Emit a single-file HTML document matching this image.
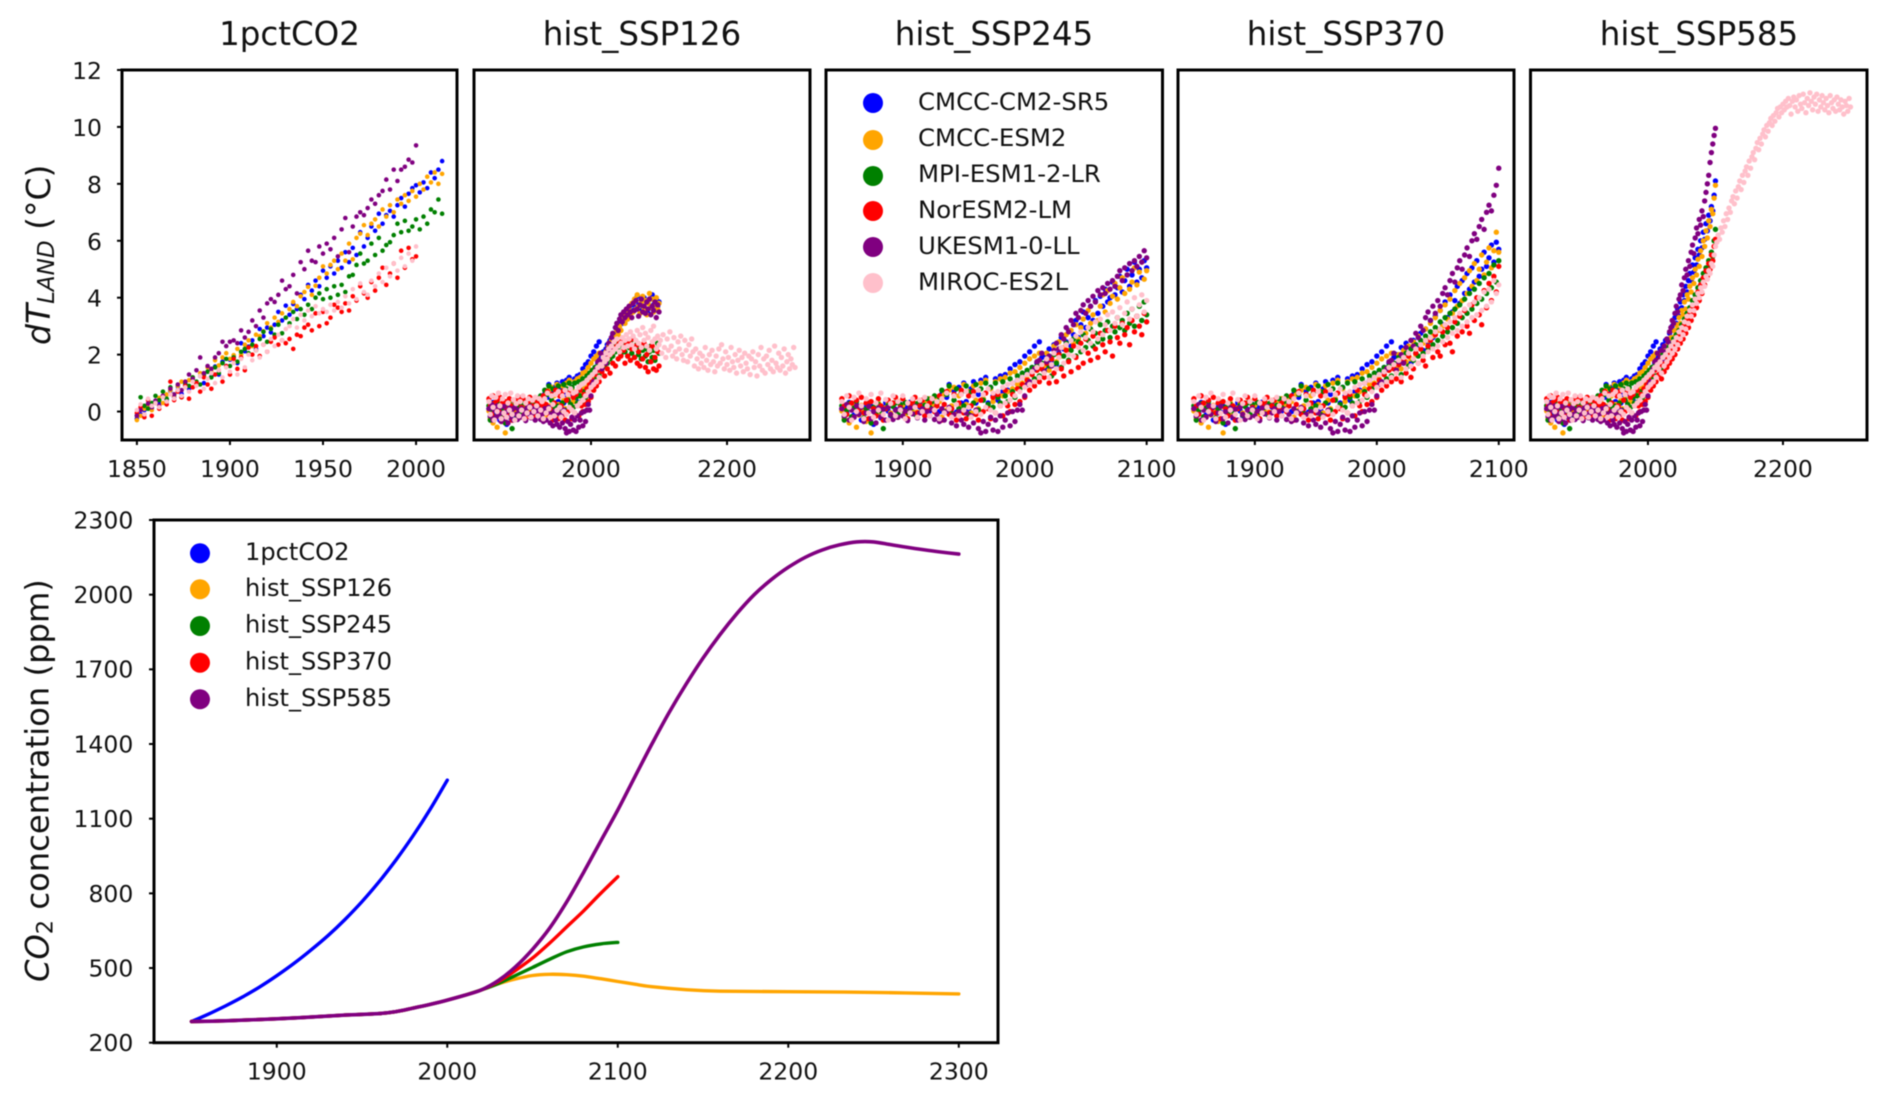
<!DOCTYPE html>
<html lang="en">
<head>
<meta charset="utf-8">
<title>Land temperature change and CO2 concentration</title>
<style>
html,body{margin:0;padding:0;background:#fff;}
#chart{display:block;width:1892px;height:1103px;filter:blur(0.45px);}
text{font-family:"DejaVu Sans","Liberation Sans",sans-serif;fill:#111;}
</style>
</head>
<body>
<svg id="chart" xmlns="http://www.w3.org/2000/svg" width="1892" height="1103" viewBox="0 0 1892 1103">
  <rect x="0" y="0" width="1892" height="1103" fill="#fff"/>
  <g id="marks"></g>
  <text x="289.5" y="45" font-size="32.5" text-anchor="middle">1pctCO2</text>
  <text x="642" y="45" font-size="32.5" text-anchor="middle">hist_SSP126</text>
  <text x="994" y="45" font-size="32.5" text-anchor="middle">hist_SSP245</text>
  <text x="1346" y="45" font-size="32.5" text-anchor="middle">hist_SSP370</text>
  <text x="1699" y="45" font-size="32.5" text-anchor="middle">hist_SSP585</text>
  <text transform="translate(50,345) rotate(-90)" font-size="33"><tspan font-style="italic">dT</tspan><tspan font-style="italic" font-size="23" dy="4">LAND</tspan><tspan dy="-4"> (°C)</tspan></text>
  <text transform="translate(48.5,982) rotate(-90)" font-size="32.2"><tspan font-style="italic">CO</tspan><tspan font-size="22.5" dy="4">2</tspan><tspan dy="-4"> concentration (ppm)</tspan></text>
  <g id="model-legend">
    <circle cx="873" cy="103" r="10" fill="#0000ff"/>
    <text x="918" y="110" font-size="24.4">CMCC-CM2-SR5</text>
    <circle cx="873" cy="140" r="10" fill="#ffa500"/>
    <text x="918" y="146" font-size="24.4">CMCC-ESM2</text>
    <circle cx="873" cy="176" r="10" fill="#008000"/>
    <text x="918" y="182" font-size="24.4">MPI-ESM1-2-LR</text>
    <circle cx="873" cy="211" r="10" fill="#ff0000"/>
    <text x="918" y="218" font-size="24.4">NorESM2-LM</text>
    <circle cx="873" cy="247" r="10" fill="#800080"/>
    <text x="918" y="254" font-size="24.4">UKESM1-0-LL</text>
    <circle cx="873" cy="283" r="10" fill="#ffc0cb"/>
    <text x="918" y="290" font-size="24.4">MIROC-ES2L</text>
  </g>
  <g id="scenario-legend">
    <circle cx="200" cy="553.3" r="10" fill="#0000ff"/>
    <text x="245" y="560" font-size="24.1">1pctCO2</text>
    <circle cx="200" cy="589.3" r="10" fill="#ffa500"/>
    <text x="245" y="596" font-size="24.1">hist_SSP126</text>
    <circle cx="200" cy="626" r="10" fill="#008000"/>
    <text x="245" y="632.7" font-size="24.1">hist_SSP245</text>
    <circle cx="200" cy="662.7" r="10" fill="#ff0000"/>
    <text x="245" y="669.3" font-size="24.1">hist_SSP370</text>
    <circle cx="200" cy="699.3" r="10" fill="#800080"/>
    <text x="245" y="706" font-size="24.1">hist_SSP585</text>
  </g>
</svg>
<script>
// ---------- Scatter values (°C), every second year ----------
const pctBlue=[-0.25,-0.1,0.05,0.2,0.12,0.38,0.3,0.55,0.42,0.72,0.5,0.88,0.62,0.95,0.8,1.18,0.98,1.25,1.0,1.4,1.22,1.58,1.3,1.75,1.6,1.82,1.95,1.7,2.4,2.12,2.28,2.5,2.2,2.9,2.65,2.95,2.78,3.05,3.5,3.2,3.72,3.4,3.78,3.6,4.1,3.95,4.45,4.25,4.6,4.4,4.95,4.7,5.1,4.85,5.3,5.05,5.6,5.25,5.75,5.5,6.3,5.8,6.1,6.5,6.35,6.95,6.6,6.9,7.05,6.85,7.25,7.5,7.2,7.65,7.85,7.95,7.7,8.05,7.85,8.4,8.2,8.5,8.8];
const pctOrange=[-0.3,-0.15,0.1,0.22,0.05,0.35,0.48,0.3,0.6,0.75,0.55,0.9,1.05,0.85,1.1,1.2,0.95,1.35,1.25,1.55,1.4,1.8,1.62,1.9,2.05,1.85,1.98,2.2,2.0,2.35,2.5,2.3,2.7,2.65,2.82,3.1,2.95,3.3,3.15,3.45,3.3,3.6,3.85,3.7,4.05,4.2,4.38,4.1,4.42,4.7,5.1,4.85,5.15,5.3,5.0,5.55,5.3,5.9,5.35,6.1,6.25,6.55,6.2,6.6,6.75,6.5,7.1,6.85,7.25,7.0,7.45,7.3,7.6,7.4,7.75,7.55,8.0,7.8,8.25,8.05,8.4,8.0,8.35];
const pctGreen=[-0.15,0.5,0.2,0.1,0.3,0.55,0.4,0.7,0.45,0.85,0.6,0.75,0.5,1.0,0.9,1.2,1.05,0.95,1.3,1.4,1.2,1.55,1.35,1.7,1.85,1.6,1.9,1.75,2.1,2.2,2.05,2.35,2.15,2.55,2.8,2.45,2.9,2.7,3.05,2.75,3.3,3.1,3.5,3.25,3.6,3.4,3.75,3.6,4.0,4.15,3.95,4.3,4.0,4.4,4.1,4.45,4.2,4.75,4.8,5.15,5.55,5.2,5.3,5.9,5.5,6.1,5.65,5.85,5.95,6.2,6.6,6.3,6.7,6.35,6.5,6.75,6.4,6.85,6.6,7.1,7.0,7.45,6.95];
const pctRed=[-0.05,0.15,-0.2,0.4,-0.15,0.3,0.1,0.55,0.25,1.05,0.4,0.7,0.5,0.9,0.45,0.85,1.0,0.7,1.2,0.95,0.8,1.3,1.45,1.05,1.6,1.3,1.85,1.5,1.9,1.45,2.25,2.0,2.3,1.95,2.35,2.1,2.45,2.6,2.35,2.5,2.4,2.55,2.2,2.7,2.65,2.95,3.05,2.85,3.45,3.0,3.5,3.1,3.3,3.75,3.65,3.5,3.8,3.55,4.05,3.9,4.4,4.15,4.0,4.55,4.25,4.7,5.05,4.45,4.85,5.2,4.7,5.65,5.05,5.75,5.35,5.45];
const pctPurple=[-0.15,0.05,-0.1,0.28,0.15,0.38,0.2,0.55,0.35,0.8,0.6,0.95,0.75,1.05,1.3,1.15,1.45,1.9,1.35,1.6,1.5,1.9,2.05,2.45,2.3,2.45,2.5,2.4,2.85,2.6,2.8,3.2,3.0,3.55,3.3,3.8,3.95,3.85,4.1,4.6,4.3,4.4,4.8,4.15,5.25,5.0,5.65,5.3,5.25,5.8,5.55,5.9,5.7,6.1,5.45,6.4,6.8,5.6,6.5,6.85,7.0,6.9,7.15,7.45,7.3,7.6,7.75,8.15,7.8,8.5,8.1,8.5,8.6,8.85,8.75,9.35];
const pctPink=[0.05,0.25,-0.1,0.45,0.2,0.3,0.15,0.5,0.35,0.6,0.45,0.75,0.55,0.85,0.7,1.05,0.9,1.25,0.8,1.15,1.35,1.0,1.45,1.2,1.55,1.4,1.7,1.3,1.85,1.55,2.0,1.8,2.15,1.9,2.35,2.1,2.55,2.3,2.7,2.5,2.9,3.0,3.25,2.95,3.4,3.2,3.55,3.35,3.7,3.45,3.6,3.5,3.75,3.55,3.85,3.65,4.05,3.8,4.3,3.95,4.5,4.2,4.1,4.6,4.4,4.85,4.55,5.05,4.75,5.2,4.95,5.4,5.1,5.55,5.3,5.8];

const histBlue=[0.1,-0.2,-0.05,0.32,0.18,-0.12,0.24,0.05,-0.3,0.12,0.28,-0.02,0.19,-0.45,-0.1,0.07,-0.22,0.15,0.31,0.02,-0.15,0.2,0.08,-0.18,0.26,0.11,-0.06,0.17,0.33,0.04,0.21,-0.09,0.16,0.3,0.09,0.24,0.02,0.38,0.19,0.27,0,0.62,-0.05,0.5,0.95,0.1,0.72,-0.02,0.85,0.3,1.0,0.35,0.05,0.8,1.05,0.3,0.6,1.1,0.45,1.2,0.3,0.85,0.55,1.15,0.4,1.25,0.7,1.3,0.75,1.5,1.0,1.65,1.1,1.75,1.2,1.95,1.4,2.1,1.55,2.3,1.7,2.45,1.9];
const histOrange=[0.02,-0.25,0.18,-0.4,0.1,0.25,-0.55,-0.12,0.22,0.06,-0.35,0.16,-0.75,-0.2,0.04,0.3,-0.08,-0.3,0.13,0.27,-0.05,0.2,-0.15,0.36,0.09,0.22,-0.12,0.3,0.14,0.05,0.28,-0.02,0.4,0.18,0.32,0.1,0.45,0.25,0.08,0.5,0.35,-0.2,0.6,0.05,0.75,0.2,0.85,-0.1,0.55,0.15,0.95,0.25,0.7,-0.05,0.9,0.4,0.1,1.0,0.45,1.1,0.2,0.8,0.35,1.05,0.5,1.15,0.55,1.2,0.7,1.35,0.8,1.4,0.95,1.55,1.0,1.7,1.15,1.85,1.3,1.95,1.45,2.05,1.7];
const histGreen=[0.2,-0.3,0.05,0.28,-0.18,0.12,0.35,-0.05,0.18,-0.22,0.08,0.3,-0.4,0.15,-0.1,0.25,0.02,-0.6,0.1,0.22,-0.12,0.18,0.3,-0.08,0.24,0.05,0.32,-0.02,0.2,0.14,-0.1,0.28,0.38,0.06,0.22,0.45,0.15,0.35,0.55,0.2,0.5,0.75,0,0.6,0.9,-0.05,0.4,0.8,0.1,0.65,0.2,0.9,-0.1,0.7,0.3,0.95,0.05,0.8,0.4,1.0,0.25,0.85,0.15,1.0,0.5,0.3,1.05,0.55,0.35,1.15,0.7,0.5,1.25,0.8,1.35,0.9,1.45,1.0,1.55,1.15,1.6,1.25,1.7];
const histRed=[0.45,0.2,-0.1,0.55,0.3,-0.2,0.4,0.05,0.5,-0.05,0.3,-0.25,0.35,0.1,-0.15,0.45,0.2,-0.3,0.1,0.4,-0.1,0.3,0.5,-0.2,0.15,0.45,0,-0.25,0.25,0.35,0.5,-0.05,0.2,0.4,-0.15,0.1,0.3,0.45,0,0.2,0.55,-0.3,0.25,0.7,-0.1,0.1,0.6,-0.3,0.3,0.75,-0.05,-0.25,0.55,0.2,0.7,-0.1,-0.3,0.4,0,0.65,0.1,-0.25,0.5,-0.05,0.6,0.2,-0.15,0.75,0.2,0,0.6,0.25,0.8,0.35,0.95,0.5,1.1,0.75,1.3,0.9,1.45,1.05,1.5];
const histPurple=[0.1,-0.15,0.25,-0.3,0.05,-0.2,0.2,-0.1,0.15,-0.35,-0.05,0.18,-0.25,0,-0.4,0.12,-0.18,0.08,-0.3,0.15,-0.1,-0.28,0.05,-0.2,0.1,-0.15,0.02,-0.32,0.12,-0.08,0.18,-0.22,-0.05,0.1,-0.3,0,-0.15,0.08,-0.28,-0.1,-0.35,0.1,-0.3,0,0.15,-0.4,-0.1,-0.5,0,-0.3,-0.45,-0.05,-0.55,-0.15,-0.4,0.05,-0.6,-0.75,-0.35,-0.7,-0.45,-0.2,-0.65,-0.3,-0.7,-0.15,-0.55,-0.3,-0.05,-0.5,0,-0.35,0.05,0.25,0.05,0.55,0.95,1.05,1.4,1.5,1.75,1.8,2.05];
const histPink=[0.35,-0.1,0.55,0.15,-0.3,0.5,0,0.65,0.2,-0.25,0.45,-0.05,0.6,-0.2,0.3,0.05,0.65,-0.1,0.42,-0.3,0.28,0.55,-0.15,0.35,0.05,0.55,-0.25,0.3,-0.05,0.45,0.15,-0.2,0.4,0,0.5,0.2,-0.15,0.45,0.05,0.35,-0.25,0.45,-0.05,0.65,0.1,-0.2,0.55,0.25,-0.15,0.6,0.05,0.7,0.15,-0.2,0.55,0,0.75,-0.1,0.6,0.15,0.8,0.05,0.65,-0.05,0.7,0.2,0.85,0.3,0.95,0.4,1.0,0.55,1.1,0.7,1.2,0.85,1.3,0.95,1.4,1.05,1.55,1.2,1.65];

const s126Blue=[1.9,2.1,1.8,2.2,2.35,2.1,2.5,2.35,2.7,2.55,2.95,2.75,3.1,2.9,3.25,3.1,3.4,3.2,3.5,3.3,3.65,3.45,3.75,3.55,3.9,3.65,4.05,3.75,3.55,3.9,3.7,4.0,3.6,3.85,3.45,3.95,3.65,4.1,3.75,3.55,3.95,3.7,3.85];
const s126Orange=[1.7,1.95,1.65,2.1,1.9,2.3,2.15,2.5,2.3,2.65,2.5,2.85,2.7,3.0,2.85,3.2,3.35,3.1,3.5,3.25,3.65,3.4,3.8,3.5,3.95,3.6,4.1,3.7,3.45,3.85,4.05,3.6,3.9,3.4,3.8,4.15,3.65,3.95,3.5,3.75,4.0,3.6,3.8];
const s126Green=[1.5,1.75,1.6,1.9,1.7,2.05,1.85,2.2,1.95,2.3,2.1,2.35,2.15,2.4,2.0,2.3,2.5,2.1,2.35,1.95,2.25,2.45,2.05,2.3,1.9,2.2,2.4,2.0,2.25,1.85,2.15,2.35,1.95,2.2,1.75,2.1,2.3,1.9,2.15,1.8,2.2,2.4,2.05];
const s126Red=[1.4,1.65,1.25,1.8,1.5,1.95,1.35,2.05,1.7,2.2,1.6,2.3,1.85,2.4,1.95,2.5,2.15,1.7,2.35,1.95,2.45,1.8,2.2,2.55,1.9,2.3,1.7,2.1,1.6,2.25,1.85,2.4,1.55,2.0,1.4,2.15,1.75,2.3,1.5,1.9,1.45,2.1,1.6];
const s126Purple=[1.5,1.8,2.0,1.7,2.2,2.4,2.15,2.6,2.75,2.5,2.95,3.1,2.85,3.25,3.4,3.15,3.5,3.3,3.6,3.4,3.7,3.5,3.3,3.8,3.55,3.9,3.6,3.35,3.75,3.95,3.5,3.7,3.45,3.85,3.6,3.95,3.4,3.7,3.55,3.85,3.3,3.75,3.5];
const s126Pink=[1.6,1.9,1.75,2.05,1.85,2.2,2.0,2.3,2.1,2.45,2.2,2.55,2.3,2.1,2.4,2.6,2.25,2.5,2.7,2.3,2.55,2.8,2.35,2.65,2.2,2.5,2.85,2.4,2.7,2.25,2.95,2.5,2.75,2.3,2.6,2.15,2.85,2.45,3.0,2.55,2.2,2.65,2.35,
2.5,2.05,2.7,2.25,1.9,2.55,2.15,2.8,2.3,1.95,2.6,2.1,1.85,2.45,2.2,2.65,2.0,1.8,2.5,2.15,1.75,2.35,1.95,2.55,2.1,1.6,2.2,1.85,1.5,2.05,1.7,1.95,1.55,2.25,1.8,1.45,2.0,1.65,2.15,1.75,1.4,1.95,1.6,2.2,1.7,2.35,1.85,1.5,2.1,1.65,1.9,1.45,2.25,1.75,1.55,2.0,1.35,1.8,2.15,1.6,1.9,1.4,2.05,1.7,1.5,1.95,1.3,1.85,2.1,1.55,1.75,1.25,2.0,1.6,2.25,1.45,1.85,1.35,1.95,1.65,2.15,1.5,1.8,1.4,2.3,1.7,1.55,2.05,1.45,1.9,1.6,2.2,1.35,1.75,2.0,1.5,1.85,1.65,2.25,1.55];

const s245Blue=[1.95,1.55,2.2,1.8,2.35,1.65,2.05,2.6,2.2,2.45,2.85,2.3,2.7,3.2,2.6,3.05,3.5,2.95,3.3,3.7,3.2,3.9,3.45,4.05,3.7,4.3,3.85,4.0,4.55,4.1,4.35,4.75,4.2,4.6,5.0,4.4,4.8,5.25,4.55,5.0,4.7,5.3,5.05];
const s245Orange=[1.6,2.05,1.45,1.85,2.3,1.75,2.45,1.95,2.25,2.7,2.15,2.85,2.4,3.05,2.55,2.95,3.25,2.75,3.55,3.1,3.4,3.85,3.2,3.7,4.1,3.5,4.25,3.8,4.05,4.5,3.95,4.35,4.7,4.15,4.8,4.3,4.55,5.05,4.45,4.9,5.25,4.65,4.95];
const s245Green=[1.4,1.85,1.6,1.25,2.0,1.7,2.2,1.55,1.95,2.4,1.8,2.15,2.55,1.95,2.45,2.1,2.7,2.25,2.5,2.9,2.3,2.75,2.45,3.05,2.55,2.85,3.15,2.6,3.0,2.8,3.3,2.95,3.2,2.85,3.45,3.1,3.6,3.0,3.35,3.7,3.2,3.85,3.4];
const s245Red=[1.2,1.7,1.0,1.85,1.35,1.05,2.0,1.5,1.25,2.15,1.75,1.4,2.3,1.9,1.55,2.4,1.7,2.55,2.05,1.8,2.65,2.2,1.9,2.75,2.35,2.1,2.85,2.45,1.95,3.0,2.6,2.4,3.1,2.7,2.95,2.35,3.2,2.8,3.35,3.0,2.7,3.45,3.15];
const s245Purple=[1.4,1.75,1.95,1.6,2.15,2.4,2.2,2.7,2.55,2.95,2.8,3.2,3.05,3.45,3.3,3.55,3.75,3.45,3.9,3.7,4.05,3.85,4.25,4.1,4.35,4.15,4.5,4.3,4.6,4.4,4.75,4.95,4.6,5.05,4.8,5.2,4.95,5.3,5.1,5.45,5.25,5.65,5.4];
const s245Pink=[1.35,1.85,1.2,1.65,2.05,1.5,1.9,2.25,1.7,2.35,2.0,2.5,1.95,2.65,2.25,2.8,2.15,2.6,2.95,2.4,2.8,3.15,2.55,3.25,2.7,3.05,3.4,2.85,3.5,3.1,3.3,3.65,3.05,3.45,3.85,3.25,3.6,4.0,3.35,3.75,4.1,3.5,3.9];

const s370Blue=[2.0,1.6,2.25,1.8,2.4,1.95,1.7,2.5,2.05,2.3,2.75,2.15,2.9,2.45,3.2,2.6,3.35,2.85,3.55,3.05,3.85,3.3,4.1,3.5,3.9,4.4,3.8,4.6,4.15,4.85,4.3,5.05,4.55,5.3,4.75,5.0,5.6,5.1,5.4,5.85,5.25,5.95,5.7];
const s370Orange=[1.6,2.0,1.5,2.15,1.75,2.3,1.85,2.45,2.0,2.65,2.2,2.4,2.9,2.5,3.1,2.65,3.3,2.85,3.55,3.0,3.75,3.25,3.95,3.45,4.25,3.7,4.5,3.9,4.7,4.15,4.95,4.4,5.2,4.6,5.0,5.5,4.8,5.25,5.75,5.05,5.65,6.3,5.6];
const s370Green=[1.45,1.9,1.3,1.75,2.05,1.6,2.2,1.8,2.35,1.95,2.5,2.05,2.65,2.2,2.8,2.35,2.95,2.5,3.15,2.65,3.3,2.8,3.45,2.95,3.6,3.1,3.75,3.3,3.95,3.45,4.15,3.6,4.3,3.8,4.5,3.95,4.7,4.15,4.85,4.35,5.15,4.55,5.3];
const s370Red=[1.15,1.65,1.05,1.8,1.35,1.95,1.2,1.5,2.05,1.7,2.2,1.8,1.6,2.3,2.5,1.9,2.7,2.1,1.95,2.8,2.35,2.95,2.4,2.1,3.15,2.65,3.35,2.8,3.55,3.0,2.75,3.75,3.2,4.0,3.4,3.05,4.25,3.65,4.5,3.9,4.75,4.2,5.1];
const s370Purple=[1.45,1.75,2.0,1.7,2.25,2.05,2.5,2.3,2.75,2.6,3.0,2.85,3.3,3.5,3.2,3.7,3.45,3.9,3.7,4.15,4.35,4.1,4.6,4.85,4.55,5.05,5.3,5.0,5.5,5.75,5.45,6.0,6.25,6.05,6.5,6.75,6.4,7.0,7.25,7.05,7.6,7.95,8.55];
const s370Pink=[1.35,1.8,1.2,1.9,1.5,2.05,1.6,1.85,2.2,1.7,2.35,1.95,2.5,2.1,2.6,2.2,2.8,2.3,2.9,2.45,3.05,2.6,3.15,2.75,3.3,2.85,3.45,3.0,3.6,3.15,3.75,3.3,3.85,3.4,4.0,3.55,4.2,3.7,4.3,3.85,4.6,4.15,4.45];

const s585Blue=[1.95,2.2,1.85,2.35,2.1,2.5,2.3,2.4,2.75,2.6,3.0,2.85,3.3,3.1,3.6,3.35,3.85,3.65,4.1,3.9,4.4,4.2,4.6,4.85,4.6,5.15,4.9,5.4,5.15,5.7,5.5,6.0,5.75,6.3,6.05,6.6,6.35,6.9,6.7,7.2,7.05,7.6,8.1];
const s585Orange=[1.75,2.0,1.65,2.15,1.95,2.3,2.1,2.45,2.25,2.6,2.45,2.85,2.65,3.05,2.9,3.3,3.1,3.55,3.4,3.85,3.6,4.1,3.95,4.4,4.2,4.7,4.5,5.0,4.8,5.35,5.1,5.65,5.45,6.0,5.8,6.35,6.1,6.7,6.5,7.1,6.95,7.5,7.95];
const s585Green=[1.6,1.85,1.45,2.0,1.7,2.1,1.9,2.25,2.05,2.4,2.2,2.55,2.35,2.7,2.5,2.85,2.7,3.05,2.9,3.25,3.1,3.45,3.3,3.65,3.5,3.9,3.7,4.1,3.95,4.35,4.15,4.6,4.4,4.85,4.65,5.05,4.9,5.3,5.15,5.6,5.45,6.0,6.4];
const s585Red=[1.3,1.6,1.15,1.75,1.4,1.9,1.55,2.05,1.7,2.2,1.85,2.35,2.0,2.5,2.2,2.65,2.4,2.85,2.55,3.05,2.75,3.25,2.95,3.45,3.2,3.7,3.4,3.95,3.65,4.2,3.9,4.45,4.15,4.7,4.45,4.95,4.75,5.2,5.0,5.5,5.3,5.8,6.05];
const s585Purple=[1.5,1.9,2.15,1.85,2.3,2.1,2.55,2.45,2.8,2.95,3.2,3.1,3.45,3.7,3.5,3.95,4.1,4.45,4.25,4.7,5.0,4.8,5.3,5.1,5.6,5.85,5.55,6.1,6.45,6.25,6.75,6.55,7.05,6.85,7.4,7.7,8.0,8.3,8.75,9.1,9.4,9.7,9.95];
const s585Pink=[1.5,1.75,1.35,1.9,1.6,2.0,1.75,2.15,1.9,2.3,2.05,2.45,2.2,2.6,2.35,2.8,2.55,2.95,2.7,3.15,2.9,3.35,3.1,3.55,3.35,3.75,3.55,3.95,3.8,4.15,4.0,4.35,4.2,4.55,4.4,4.75,4.65,4.95,4.85,5.2,5.1,5.5,5.8,
5.95,6.2,6.05,6.45,6.3,6.7,6.5,6.95,6.75,7.15,7.0,7.4,7.55,7.3,7.75,7.5,7.9,8.1,7.8,8.3,8.05,8.45,8.6,8.3,8.8,8.55,8.95,9.1,8.85,9.25,9.45,9.2,9.6,9.4,9.75,9.9,9.65,10.05,9.85,10.15,10.3,10.05,10.4,10.2,10.5,10.65,10.35,10.7,10.5,10.8,10.6,10.9,10.7,11.0,10.75,10.45,10.9,11.05,10.7,10.95,10.55,11.1,10.8,10.65,11.15,10.85,10.5,11.0,10.75,11.2,10.9,10.6,11.05,10.8,11.15,10.55,10.95,10.7,11.1,10.85,10.6,11.0,10.75,10.5,11.1,10.85,10.65,10.95,10.55,11.05,10.8,10.6,10.95,10.7,10.45,10.9,10.75,10.55,11.0,10.7];

// ---------- CO2 line values: [year, ppm] ----------
const co2Pct=[[1850,285],[1860,315],[1870,348],[1880,384],[1890,424],[1900,469],[1910,518],[1920,572],[1930,630],[1940,695],[1950,767],[1960,847],[1970,935],[1980,1032],[1990,1138],[2000,1255]];
const co2Hist=[[1850,285],[1870,288],[1900,296],[1920,303],[1940,311],[1960,317],[1970,325],[1980,339],[1990,354],[2000,371],[2010,390],[2020,412]];
const co2Ssp126=[[2030,437],[2040,456],[2050,470],[2060,475],[2070,473],[2080,467],[2090,457],[2100,446],[2110,435],[2120,425],[2140,413],[2160,407],[2200,405],[2250,402],[2300,396]];
const co2Ssp245=[[2030,438],[2040,470],[2050,502],[2060,535],[2070,565],[2080,585],[2090,597],[2100,603]];
const co2Ssp370=[[2030,445],[2040,490],[2050,540],[2060,600],[2070,665],[2080,730],[2090,800],[2100,867]];
const co2Ssp585=[[2030,450],[2040,505],[2050,575],[2060,660],[2070,765],[2080,885],[2090,1010],[2100,1135],[2110,1268],[2120,1400],[2130,1525],[2140,1640],[2150,1745],[2160,1840],[2170,1925],[2180,2000],[2190,2060],[2200,2110],[2210,2150],[2220,2180],[2230,2200],[2240,2212],[2250,2212],[2260,2201],[2270,2190],[2280,2180],[2290,2171],[2300,2163]];

// ---------- Axis tick labels ----------
const tempTicks=[0,2,4,6,8,10,12];
const co2Ticks=[200,500,800,1100,1400,1700,2000,2300];
const pctYearTicks=[1850,1900,1950,2000];
const longYearTicks=[2000,2200];
const midYearTicks=[1900,2000,2100];
const co2YearTicks=[1900,2000,2100,2200,2300];

const FIRST_YEAR=1850;
const SSP_FIRST_YEAR=2016;
const YEAR_STEP=2;
const modelColors=['#0000ff','#ffa500','#008000','#ff0000','#800080','#ffc0cb'];
const modelKeys=['cmcc-cm2-sr5','cmcc-esm2','mpi-esm1-2-lr','noresm2-lm','ukesm1-0-ll','miroc-es2l'];
const histSeries=[histBlue,histOrange,histGreen,histRed,histPurple,histPink];
const pctSeries=[pctBlue,pctOrange,pctGreen,pctRed,pctPurple,pctPink];
const s126Series=[s126Blue,s126Orange,s126Green,s126Red,s126Purple,s126Pink];
const s245Series=[s245Blue,s245Orange,s245Green,s245Red,s245Purple,s245Pink];
const s370Series=[s370Blue,s370Orange,s370Green,s370Red,s370Purple,s370Pink];
const s585Series=[s585Blue,s585Orange,s585Green,s585Red,s585Purple,s585Pink];

const NS='http://www.w3.org/2000/svg';
const root=document.getElementById('marks');

function linear(d0,d1,r0,r1){return function(v){return r0+(v-d0)*(r1-r0)/(d1-d0);};}

function mk(tag,attrs,parent){
  const el=document.createElementNS(NS,tag);
  for(const k in attrs){el.setAttribute(k,attrs[k]);}
  parent.appendChild(el);
  return el;
}

function axisFrame(g,l,r,t,b,sw){
  const frame=mk('rect',{x:l,y:t,width:r-l,height:b-t,fill:'none',stroke:'#000','stroke-width':sw},g);
  
  
}

function xTicks(g,ticks,sx,b,labelY,fs){
  ticks.forEach(function(v){
    const x=sx(v);
    const tick=mk('line',{x1:x,x2:x,y1:b,y2:b+5,stroke:'#000','stroke-width':2},g);
    
    
    const t=mk('text',{x:x,y:labelY,'font-size':fs,'text-anchor':'middle'},g);
    t.textContent=String(v);
    
    
  });
}

function yTicks(g,ticks,sy,l,labelX,dy,fs){
  ticks.forEach(function(v){
    const y=sy(v);
    const tick=mk('line',{x1:l-5,x2:l,y1:y,y2:y,stroke:'#000','stroke-width':2},g);
    
    
    const t=mk('text',{x:labelX,y:y+dy,'font-size':fs,'text-anchor':'end'},g);
    t.textContent=String(v);
    
    
  });
}

function dots(g,values,start,sx,sy,color,key,r){
  values.forEach(function(v,i){
    const c=mk('circle',{cx:sx(start+i*YEAR_STEP),cy:sy(v),r:r,fill:color},g);
    
    
  });
}

function tempPanel(name,l,r,xd0,xd1,ticks,seriesFn){
  const g=mk('g',{},root);
  
  
  const sx=linear(xd0,xd1,l,r);
  const sy=linear(-1,12,440,70);
  seriesFn(g,sx,sy);
  axisFrame(g,l,r,70,440,3);
  xTicks(g,ticks,sx,440,477,23.5);
  return sy;
}

function histAndSsp(sspSeries){
  return function(g,sx,sy){
    modelColors.forEach(function(color,m){
      dots(g,histSeries[m],FIRST_YEAR,sx,sy,color,modelKeys[m],2.7);
      dots(g,sspSeries[m],SSP_FIRST_YEAR,sx,sy,color,modelKeys[m],2.7);
    });
  };
}

const tempY=tempPanel('panel-1pctco2',122,457,1842,2022,pctYearTicks,function(g,sx,sy){
  modelColors.forEach(function(color,m){
    dots(g,pctSeries[m],FIRST_YEAR,sx,sy,color,modelKeys[m],2.3);
  });
});
yTicks(root,tempTicks,tempY,122,102,9,23.5);
tempPanel('panel-hist-ssp126',474,810,1828,2322,longYearTicks,histAndSsp(s126Series));
tempPanel('panel-hist-ssp245',826,1162.5,1837,2113,midYearTicks,histAndSsp(s245Series));
tempPanel('panel-hist-ssp370',1178,1514,1837,2112.5,midYearTicks,histAndSsp(s370Series));
tempPanel('panel-hist-ssp585',1530.5,1867,1826,2324.5,longYearTicks,histAndSsp(s585Series));

// ---------- CO2 panel ----------
const co2Group=mk('g',{},root);


const co2X=linear(1828,2323,154,998);
const co2Y=linear(200,2300,1042.7,520);

function smoothPath(pts){
  const p=pts.map(function(d){return [co2X(d[0]),co2Y(d[1])];});
  let s='M'+p[0][0].toFixed(1)+' '+p[0][1].toFixed(1);
  for(let i=0;i<p.length-1;i++){
    const a=p[Math.max(i-1,0)],b=p[i],c=p[i+1],e=p[Math.min(i+2,p.length-1)];
    const c1x=b[0]+(c[0]-a[0])/6,c1y=b[1]+(c[1]-a[1])/6;
    const c2x=c[0]-(e[0]-b[0])/6,c2y=c[1]-(e[1]-b[1])/6;
    s+=' C'+c1x.toFixed(1)+' '+c1y.toFixed(1)+' '+c2x.toFixed(1)+' '+c2y.toFixed(1)+' '+c[0].toFixed(1)+' '+c[1].toFixed(1);
  }
  return s;
}

function co2Line(pts,color,width,key){
  const p=mk('path',{d:smoothPath(pts),fill:'none',stroke:color,'stroke-width':width,'stroke-linejoin':'round','stroke-linecap':'round'},co2Group);
  
  
}

co2Line(co2Pct,'#0000ff',3.4,'1pctco2');
co2Line(co2Hist.concat(co2Ssp126),'#ffa500',3.4,'hist-ssp126');
co2Line(co2Hist.concat(co2Ssp245),'#008000',3.4,'hist-ssp245');
co2Line(co2Hist.concat(co2Ssp370),'#ff0000',3.4,'hist-ssp370');
co2Line(co2Hist.concat(co2Ssp585),'#800080',3.6,'hist-ssp585');
axisFrame(co2Group,154,998,520,1042.7,3);
xTicks(co2Group,co2YearTicks,co2X,1042.7,1079.3,23.5);
yTicks(co2Group,co2Ticks,co2Y,154,133.3,8.4,23.5);
</script>
</body>
</html>
